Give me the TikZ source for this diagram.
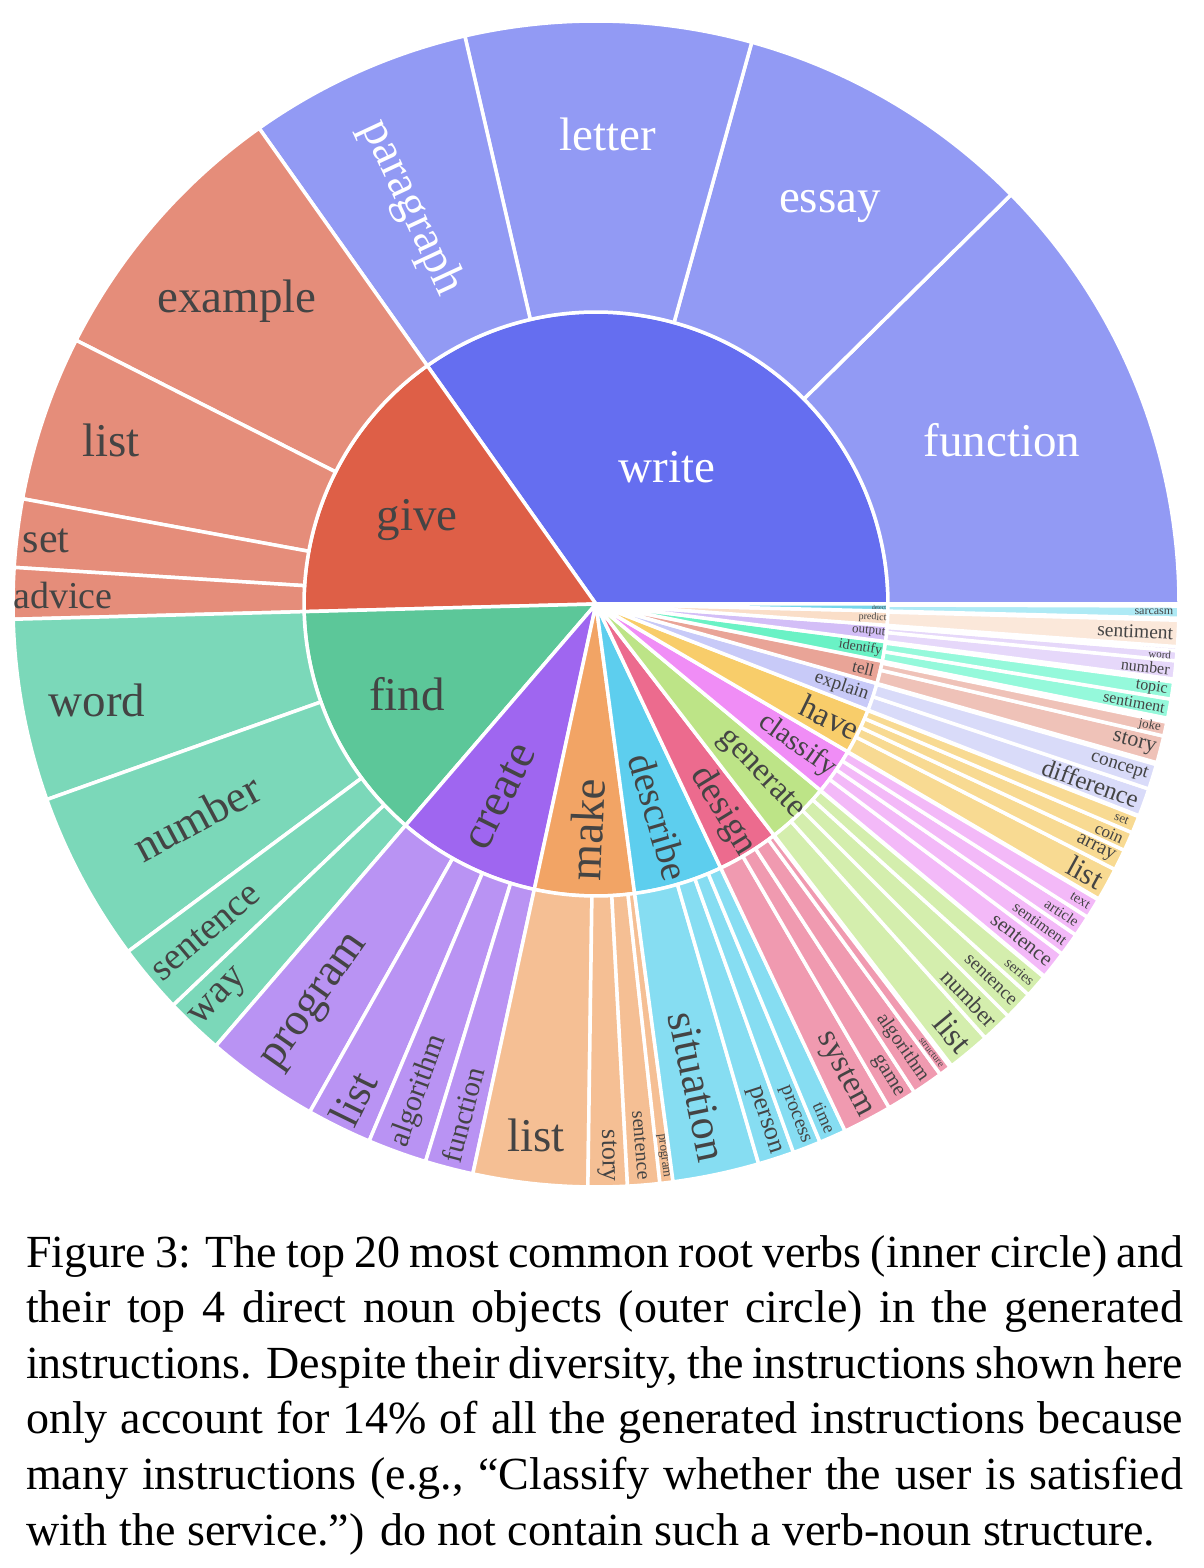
\documentclass[tikz,border=0pt]{standalone}
\usepackage{fontspec}
\setmainfont{Liberation Serif}

\definecolor{txt}{HTML}{444444}
\definecolor{writeIn}{HTML}{656EF0}\definecolor{writeOut}{HTML}{929AF4}
\definecolor{giveIn}{HTML}{DE5F47}\definecolor{giveOut}{HTML}{E58D7A}
\definecolor{findIn}{HTML}{5CC799}\definecolor{findOut}{HTML}{7BD8B9}
\definecolor{createIn}{HTML}{9F66F0}\definecolor{createOut}{HTML}{B993F3}
\definecolor{makeIn}{HTML}{F2A465}\definecolor{makeOut}{HTML}{F5BF94}
\definecolor{descrIn}{HTML}{5DCEEE}\definecolor{descrOut}{HTML}{86DDF2}
\definecolor{designIn}{HTML}{EC6B8E}\definecolor{designOut}{HTML}{F09AB0}
\definecolor{generIn}{HTML}{BDE487}\definecolor{generOut}{HTML}{D4EEAD}
\definecolor{classIn}{HTML}{F08DF6}\definecolor{classOut}{HTML}{F3B9F8}
\definecolor{haveIn}{HTML}{F8CD6A}\definecolor{haveOut}{HTML}{F8DA92}
\definecolor{explIn}{HTML}{C8CAF8}\definecolor{explOut}{HTML}{D9DBF9}
\definecolor{tellIn}{HTML}{E9A497}\definecolor{tellOut}{HTML}{EFC2B8}
\definecolor{identIn}{HTML}{6AF2C5}\definecolor{identOut}{HTML}{95F9DB}
\definecolor{outIn}{HTML}{D3BEF7}\definecolor{outOut}{HTML}{E6D8FA}
\definecolor{predIn}{HTML}{FADEC8}\definecolor{predOut}{HTML}{FBE8DA}
\definecolor{detIn}{HTML}{76D6EA}\definecolor{detOut}{HTML}{AEEAF5}

\newcommand{\fs}[1]{\fontsize{#1}{#1}\selectfont}
\newcommand{\verbseg}[3]{\filldraw[seg, fill=#3] (0,0) -- (#1:292pt) arc[start angle=#1, end angle=#2, radius=292pt] -- cycle;}
\newcommand{\nounseg}[3]{\filldraw[seg, fill=#3] (#1:292pt) arc[start angle=#1, end angle=#2, radius=292pt] -- (#2:583pt) arc[start angle=#2, end angle=#1, radius=583pt] -- cycle;}

\begin{document}
\begin{tikzpicture}[x=1pt, y=1pt,
  seg/.style={draw=white, line width=3.5pt, line join=round},
  lbl/.style={inner sep=0pt, text=txt},
  wlbl/.style={inner sep=0pt, text=white},
  capline/.style={inner sep=0pt, anchor=base west, font=\fs{46}}]

\useasboundingbox (-596,-964) rectangle (608,604);

%inner ring
\verbseg{0}{125.3}{writeIn}
\verbseg{125.3}{181.5}{giveIn}
\verbseg{181.5}{229.3}{findIn}
\verbseg{229.3}{257.8}{createIn}
\verbseg{257.8}{277.6}{makeIn}
\verbseg{277.6}{295.3}{descrIn}
\verbseg{295.3}{307.6}{designIn}
\verbseg{307.6}{320.3}{generIn}
\verbseg{320.3}{329.6}{classIn}
\verbseg{329.6}{338.7}{haveIn}
\verbseg{338.7}{344.2}{explIn}
\verbseg{344.2}{348.7}{tellIn}
\verbseg{348.7}{352.6}{identIn}
\verbseg{352.6}{355.8}{outIn}
\verbseg{355.8}{358.6}{predIn}
\verbseg{358.6}{360}{detIn}

%outer ring
\nounseg{0}{44.6}{writeOut}
\nounseg{44.6}{74.5}{writeOut}
\nounseg{74.5}{103}{writeOut}
\nounseg{103}{125.3}{writeOut}
\nounseg{125.3}{153.1}{giveOut}
\nounseg{153.1}{169.6}{giveOut}
\nounseg{169.6}{176.4}{giveOut}
\nounseg{176.4}{181.5}{giveOut}
\nounseg{181.5}{199.6}{findOut}
\nounseg{199.6}{216.6}{findOut}
\nounseg{216.6}{223.5}{findOut}
\nounseg{223.5}{229.3}{findOut}
\nounseg{229.3}{240.6}{createOut}
\nounseg{240.6}{247.1}{createOut}
\nounseg{247.1}{253}{createOut}
\nounseg{253}{257.8}{createOut}
\nounseg{257.8}{269.2}{makeOut}
\nounseg{269.2}{273.1}{makeOut}
\nounseg{273.1}{276.3}{makeOut}
\nounseg{276.3}{277.6}{makeOut}
\nounseg{277.6}{286.2}{descrOut}
\nounseg{286.2}{289.8}{descrOut}
\nounseg{289.8}{292.6}{descrOut}
\nounseg{292.6}{295.3}{descrOut}
\nounseg{295.3}{300.2}{designOut}
\nounseg{300.2}{303.1}{designOut}
\nounseg{303.1}{306.2}{designOut}
\nounseg{306.2}{307.4}{designOut}
\nounseg{307.6}{311.9}{generOut}
\nounseg{311.9}{315}{generOut}
\nounseg{315}{317.9}{generOut}
\nounseg{317.9}{320.2}{generOut}
\nounseg{320.3}{323.1}{classOut}
\nounseg{323.1}{325.4}{classOut}
\nounseg{325.4}{327.5}{classOut}
\nounseg{327.5}{329.5}{classOut}
\nounseg{329.6}{332.9}{haveOut}
\nounseg{332.9}{335}{haveOut}
\nounseg{335}{336.9}{haveOut}
\nounseg{336.9}{338.6}{haveOut}
\nounseg{338.7}{341.5}{explOut}
\nounseg{341.5}{344}{explOut}
\nounseg{344.2}{346.9}{tellOut}
\nounseg{346.9}{348.3}{tellOut}
\nounseg{348.7}{350.6}{identOut}
\nounseg{350.6}{352.3}{identOut}
\nounseg{352.6}{354.4}{outOut}
\nounseg{354.4}{355.4}{outOut}
\nounseg{355.4}{355.8}{outOut}
\nounseg{355.8}{358.4}{predOut}
\nounseg{358.6}{359.8}{detOut}

%verb labels
\node[wlbl, font=\fs{47}] (write) at (71,137) {write};
\node[lbl, font=\fs{47}] (give) at (-179,84) {give};
\node[lbl, font=\fs{47}] (find) at (-189,-90) {find};
\node[lbl, font=\fs{47}, rotate=63.5] (create) at (243.5:215) {create};
\node[lbl, font=\fs{47}, rotate=87.7] (make) at (267.7:226) {make};
\node[lbl, font=\fs{39}, rotate=-73.55] (describe) at (286.45:222) {describe};
\node[lbl, font=\fs{37}, rotate=-58.55] (design) at (301.45:243) {design};
\node[lbl, font=\fs{33}, rotate=-46.05] (generate) at (313.95:237) {generate};
\node[lbl, font=\fs{29}, rotate=-35.05] (classify) at (324.95:246) {classify};
\node[lbl, font=\fs{33}, rotate=-25.85] (have) at (334.15:260) {have};
\node[lbl, font=\fs{19}, rotate=-18.55] (explain) at (341.45:259) {explain};
\node[lbl, font=\fs{17}, rotate=-13.55] (tell) at (346.45:275) {tell};
\node[lbl, font=\fs{14}, rotate=-9.35] (identify) at (350.65:268) {identify};
\node[lbl, font=\fs{13}, rotate=-5.8] (output) at (354.2:274) {output};
\node[lbl, font=\fs{10}, rotate=-2.8] (predict) at (357.2:277) {predict};
\node[lbl, font=\fs{6}, rotate=-0.7] (detect) at (359.3:283) {detect};

%noun labels
\node[wlbl, font=\fs{47}] (writeFunction) at (406,164) {function};
\node[wlbl, font=\fs{47}] (writeEssay) at (234,397) {essay};
\node[wlbl, font=\fs{47}] (writeLetter) at (12,470) {letter};
\node[wlbl, font=\fs{47}, rotate=-65] (writeParagraph) at (115:437) {paragraph};
\node[lbl, font=\fs{47}] (giveExample) at (-359,303) {example};
\node[lbl, font=\fs{47}] (giveList) at (-485,164) {list};
\node[lbl, font=\fs{42}] (giveSet) at (-550,63) {set};
\node[lbl, font=\fs{38}] (giveAdvice) at (-533,8) {advice};
\node[lbl, font=\fs{47}] (findWord) at (-499,-96) {word};
\node[lbl, font=\fs{45}, rotate=28.1] (findNumber) at (208.1:453) {number};
\node[lbl, font=\fs{38}, rotate=40] (findSentence) at (220.05:510) {sentence};
\node[lbl, font=\fs{40}, rotate=46.4] (findWay) at (226.4:545) {way};
\node[lbl, font=\fs{46}, rotate=55] (createProgram) at (234.95:487) {program};
\node[lbl, font=\fs{44}, rotate=63.9] (createList) at (243.85:551) {list};
\node[lbl, font=\fs{30}, rotate=70] (createAlgorithm) at (250.05:518) {algorithm};
\node[lbl, font=\fs{29}, rotate=75.4] (createFunction) at (255.4:528) {function};
\node[lbl, font=\fs{47}] (makeList) at (-60,-531) {list};
\node[lbl, font=\fs{26}, rotate=-88.85] (makeStory) at (271.15:552) {story};
\node[lbl, font=\fs{20}, rotate=-85.3] (makeSentence) at (274.7:543) {sentence};
\node[lbl, font=\fs{13}, rotate=-83] (makeProgram) at (276.95:556) {program};
\node[lbl, font=\fs{44}, rotate=-78.1] (descrSituation) at (281.9:493) {situation};
\node[lbl, font=\fs{26}, rotate=-72] (descrPerson) at (288:543) {person};
\node[lbl, font=\fs{20}, rotate=-68.8] (descrProcess) at (291.2:548) {process};
\node[lbl, font=\fs{18}, rotate=-66] (descrTime) at (293.95:562) {time};
\node[lbl, font=\fs{33}, rotate=-62.25] (designSystem) at (297.75:532) {system};
\node[lbl, font=\fs{21}, rotate=-58.35] (designGame) at (301.65:555) {game};
\node[lbl, font=\fs{20}, rotate=-55.35] (designAlgorithm) at (304.65:539) {algorithm};
\node[lbl, font=\fs{10}, rotate=-53.2] (designStructure) at (306.8:560) {structure};
\node[lbl, font=\fs{33}, rotate=-50.25] (generList) at (309.75:558) {list};
\node[lbl, font=\fs{23}, rotate=-46.55] (generNumber) at (313.45:543) {number};
\node[lbl, font=\fs{19}, rotate=-43.55] (generSentence) at (316.45:545) {sentence};
\node[lbl, font=\fs{15}, rotate=-40.95] (generSeries) at (319.05:561) {series};
\node[lbl, font=\fs{21}, rotate=-38.3] (classSentence) at (321.7:542) {sentence};
\node[lbl, font=\fs{16}, rotate=-35.75] (classSentiment) at (324.25:547) {sentiment};
\node[lbl, font=\fs{15}, rotate=-33.55] (classArticle) at (326.45:559) {article};
\node[lbl, font=\fs{14}, rotate=-31.5] (classText) at (328.5:568) {text};
\node[lbl, font=\fs{30}, rotate=-28.75] (haveList) at (331.25:558) {list};
\node[lbl, font=\fs{20}, rotate=-26.05] (haveArray) at (333.95:556) {array};
\node[lbl, font=\fs{17}, rotate=-24.05] (haveCoin) at (335.95:562) {coin};
\node[lbl, font=\fs{13}, rotate=-22.25] (haveSet) at (337.75:568) {set};
\node[lbl, font=\fs{25}, rotate=-19.9] (explDifference) at (340.1:526) {difference};
\node[lbl, font=\fs{19}, rotate=-17.25] (explConcept) at (342.75:548) {concept};
\node[lbl, font=\fs{22}, rotate=-14.45] (tellStory) at (345.55:556) {story};
\node[lbl, font=\fs{13}, rotate=-12.4] (tellJoke) at (347.6:567) {joke};
\node[lbl, font=\fs{16}, rotate=-10.35] (identSentiment) at (349.65:547) {sentiment};
\node[lbl, font=\fs{16}, rotate=-8.55] (identTopic) at (351.45:562) {topic};
\node[lbl, font=\fs{16}, rotate=-6.5] (outNumber) at (353.5:553) {number};
\node[lbl, font=\fs{11}, rotate=-5.1] (outWord) at (354.9:566) {word};
\node[lbl, font=\fs{19.5}, rotate=-2.9] (predSentiment) at (357.1:540) {sentiment};
\node[lbl, font=\fs{12}, rotate=-0.8] (detSarcasm) at (359.2:558) {sarcasm};

%caption
\node[capline] (cap1) at (-570,-663) {\makebox[1157pt][s]{Figure 3: The top 20 most common root verbs (inner circle) and}};
\node[capline] (cap2) at (-570,-718.6) {\makebox[1157pt][s]{their top 4 direct noun objects (outer circle) in the generated}};
\node[capline] (cap3) at (-570,-774.2) {\makebox[1157pt][s]{instructions. Despite their diversity, the instructions shown here}};
\node[capline] (cap4) at (-570,-829.8) {\makebox[1157pt][s]{only account for 14\% of all the generated instructions because}};
\node[capline] (cap5) at (-570,-885.4) {\makebox[1157pt][s]{many instructions (e.g., “Classify whether the user is satisfied}};
\node[capline] (cap6) at (-570,-941) {with the service.”) do not contain such a verb-noun structure.};

\end{tikzpicture}
\end{document}
